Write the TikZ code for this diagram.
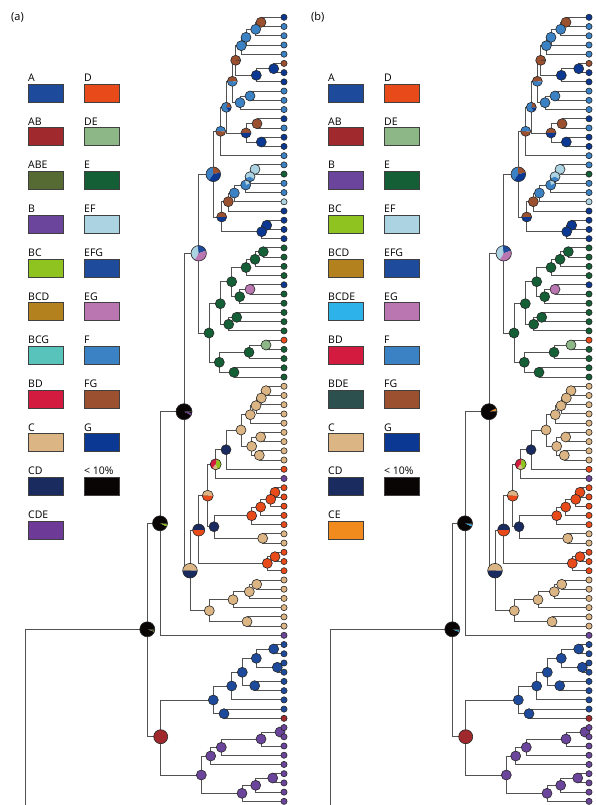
\documentclass[tikz,border=0pt]{standalone}
\usepackage{fontspec}
\setmainfont{Open Sans}
\definecolor{cA}{HTML}{1D4A9B}
\definecolor{cAB}{HTML}{A0292D}
\definecolor{cABE}{HTML}{566B33}
\definecolor{cB}{HTML}{6B449B}
\definecolor{cBC}{HTML}{8FC31F}
\definecolor{cBCD}{HTML}{B3821F}
\definecolor{cBCG}{HTML}{58C3BB}
\definecolor{cBD}{HTML}{D31A3F}
\definecolor{cC}{HTML}{DCB585}
\definecolor{cCD}{HTML}{1A2C5F}
\definecolor{cCDE}{HTML}{6E3A97}
\definecolor{cD}{HTML}{E84A1A}
\definecolor{cDE}{HTML}{8DB787}
\definecolor{cE}{HTML}{145F35}
\definecolor{cEF}{HTML}{ACD3E1}
\definecolor{cEFG}{HTML}{1E4B9C}
\definecolor{cEG}{HTML}{B976B0}
\definecolor{cF}{HTML}{3B82C5}
\definecolor{cFG}{HTML}{9B5130}
\definecolor{cG}{HTML}{0A3892}
\definecolor{cK}{HTML}{0A0505}
\definecolor{cBCDE}{HTML}{2DB3EA}
\definecolor{cBDE}{HTML}{2C504D}
\definecolor{cCE}{HTML}{F18B1D}
\tikzset{
  edge/.style={draw=black!68, line width=0.9pt},
  pieline/.style={draw=black!85, line width=0.6pt},
  legbox/.style={draw=black!75, line width=0.8pt, minimum width=35pt, minimum height=18pt, inner sep=0pt, anchor=north west},
  leglab/.style={anchor=base west, inner sep=0pt, font=\fontsize{10.5}{12}\selectfont},
  panel/.style={anchor=base west, inner sep=0pt, font=\fontsize{11}{13}\selectfont}
}
% define node coordinates of one tree: #1 prefix, #2 x shift
\newcommand\deftree[2]{%
  \foreach \i in {0,...,85} {\coordinate (#1t\i) at ({284+#2},{17.3+9.224*\i});}
  \foreach \n/\x/\y in {1/261/22.3, 2/255.7/29.3, 3/246/37.3, 4/241.3/45.7, 5/273.7/68.7, 6/256.3/75.3,
    7/235.7/60.3, 8/250/96, 9/240/102.7, 10/232.3/81.3, 11/257/123.7, 12/261.3/142, 13/246/133,
    14/226.3/107.3, 15/220.7/131.3, 16/255/169.3, 17/250/176.7, 18/245.7/185, 19/234.3/193,
    20/228.3/201.7, 21/266.7/225.3, 22/261.7/231.7, 23/221.7/217, 24/213.3/174.3, 25/263.3/251.7,
    26/255/259.3, 27/246/267.5, 28/250/289.3, 29/239.7/296.7, 30/231.7/281.7, 31/236.7/317.3,
    32/228.7/324.3, 33/220.3/303.7, 34/266/345, 35/249/352.3, 36/234/372.3, 37/219.3/362.3,
    38/209/333, 39/198.7/253.3, 40/266/390.7, 41/261.3/398, 42/256/405.7, 43/250.3/414.7,
    44/260.7/437, 45/259.3/455.3, 46/251.7/446.3, 47/241/430, 48/226/449.7, 49/215.7/464.3,
    50/275/492.3, 51/270.7/499.3, 52/260.7/507, 53/251.7/515.7, 54/262.7/538.3, 55/214/526.7,
    56/207.7/495.7, 57/275/556.7, 58/267.3/563.3, 59/198.7/530, 60/256.7/584.3, 61/249.3/591.7,
    62/233/599.7, 63/247/621.7, 64/209.3/610.7, 65/190/570.7, 66/184/411.7, 67/160/523.3,
    68/273.7/649, 69/277.3/667.3, 70/256.3/658.3, 71/254.7/685.7, 72/242.3/672.3, 73/231.7/686,
    74/224/713.7, 75/213.3/700, 76/280/732, 77/261/739, 78/221.3/747.3, 79/210.7/756,
    80/272.7/778, 81/255.7/785.3, 82/242/793.3, 83/201.3/775, 84/160.7/736.7, 85/147.3/629.3}
    {\coordinate (#1n\n) at ({\x+#2},\y);}
  \coordinate (#1rb) at ({25+#2},808);
}
\newcommand\drawedges[1]{%
  \foreach \p/\c in {n1/t0, n1/t1, n2/n1, n2/t2, n3/n2, n3/t3, n4/n3, n4/t4, n5/t5, n5/t6, n6/n5, n6/t7,
    n7/n4, n7/n6, n8/t8, n8/t9, n9/n8, n9/t10, n10/n7, n10/n9, n11/t11, n11/t12, n12/t13, n12/t14,
    n13/n11, n13/n12, n14/n10, n14/n13, n15/n14, n15/t15, n16/t16, n16/t17, n17/n16, n17/t18,
    n18/n17, n18/t19, n19/n18, n19/t20, n20/n19, n20/t21, n21/t22, n21/t23, n22/n21, n22/t24,
    n23/n20, n23/n22, n24/n15, n24/n23, n25/t25, n25/t26, n26/n25, n26/t27, n27/n26, n27/t28,
    n28/t29, n28/t30, n29/n28, n29/t31, n30/n27, n30/n29, n31/t32, n31/t33, n32/n31, n32/t34,
    n33/n30, n33/n32, n34/t35, n34/t36, n35/n34, n35/t37, n36/t38, n36/t39, n37/n35, n37/n36,
    n38/n33, n38/n37, n39/n24, n39/n38, n40/t40, n40/t41, n41/n40, n41/t42, n42/n41, n42/t43,
    n43/n42, n43/t44, n44/t45, n44/t46, n45/t47, n45/t48, n46/n44, n46/n45, n47/n43, n47/n46,
    n48/n47, n48/t49, n49/n48, n49/t50, n50/t51, n50/t52, n51/n50, n51/t53, n52/n51, n52/t54,
    n53/n52, n53/t55, n54/t56, n54/t57, n55/n53, n55/n54, n56/n49, n56/n55, n57/t58, n57/t59,
    n58/n57, n58/t60, n59/n56, n59/n58, n60/t61, n60/t62, n61/n60, n61/t63, n62/n61, n62/t64,
    n63/t65, n63/t66, n64/n62, n64/n63, n65/n59, n65/n64, n66/n39, n66/n65, n67/n66, n67/t67,
    n68/t68, n68/t69, n69/t70, n69/t71, n70/n68, n70/n69, n71/t72, n71/t73, n72/n70, n72/n71,
    n73/n72, n73/t74, n74/t75, n74/t76, n75/n73, n75/n74, n76/t77, n76/t78, n77/n76, n77/t79,
    n78/n77, n78/t80, n79/n78, n79/t81, n80/t82, n80/t83, n81/n80, n81/t84, n82/n81, n82/t85,
    n83/n79, n83/n82, n84/n75, n84/n83, n85/n67, n85/n84, rb/n85}
    {\draw[edge] (#1\p) |- (#1\c);}
}
% pie chart: #1 coordinate, #2 radius, #3 list start/end/colour
\newcommand\pie[3]{%
  \begin{scope}[shift={(#1)}, yscale=-1]
    \foreach \sa/\sb/\sc in {#3} {\fill[fill=\sc] (0,0) -- (\sa:#2) arc[start angle=\sa, end angle=\sb, radius=#2] -- cycle;}
    \draw[pieline] (0,0) circle[radius=#2];
  \end{scope}}
\newcommand\commonpies[1]{%
  \foreach \n/\c in {n1/cFG, n2/cF, n3/cF, n4/cF, n5/cG, n6/cG, n8/cF, n9/cF, n11/cFG, n12/cG,
    n16/cEF, n19/cF, n20/cFG, n21/cG, n22/cG, n25/cE, n26/cE, n27/cE, n28/cEG, n29/cE, n30/cE,
    n31/cE, n32/cE, n33/cE, n34/cDE, n35/cE, n36/cE, n37/cE, n38/cE, n40/cC, n41/cC, n42/cC,
    n43/cC, n44/cC, n45/cC, n46/cC, n47/cC, n48/cCD, n50/cD, n51/cD, n52/cD, n53/cD, n54/cC,
    n55/cCD, n57/cD, n58/cD, n60/cC, n61/cC, n62/cC, n63/cC, n64/cC, n68/cA, n69/cA, n70/cA,
    n71/cA, n72/cA, n73/cA, n74/cA, n75/cA, n76/cB, n77/cB, n78/cB, n79/cB, n80/cB, n81/cB,
    n82/cB, n83/cB}
    {\fill[fill=\c, pieline] (#1\n) circle[radius=5];}
  \fill[fill=cAB, pieline] (#1n84) circle[radius=7];
  \pie{#1n7}{5}{10/355/cFG, 355/370/cK}
  \pie{#1n10}{5}{0/180/cFG, 180/360/cF}
  \pie{#1n13}{5}{0/180/cFG, 180/360/cG}
  \pie{#1n14}{5}{0/80/cFG, 80/300/cF, 300/360/cG}
  \pie{#1n15}{5}{0/180/cF, 180/360/cFG}
  \pie{#1n17}{5}{-30/200/cEF, 200/330/cF}
  \pie{#1n18}{5}{20/100/cEF, 100/380/cF}
  \pie{#1n23}{5}{0/180/cFG, 180/360/cG}
  \pie{#1n24}{7.3}{15/95/cFG, 95/235/cF, 235/375/cG}
  \pie{#1n39}{7.7}{20/100/cEFG, 100/240/cEF, 240/380/cEG}
  \pie{#1n49}{5.5}{-70/80/cBC, 80/230/cBD, 230/290/cC}
  \pie{#1n56}{5.5}{0/180/cC, 180/360/cD}
  \pie{#1n59}{6}{0/180/cCD, 180/360/cD}
  \pie{#1n65}{7.3}{0/180/cC, 180/360/cCD}
}
\newcommand\drawtips[1]{%
  \foreach \i/\c in {0/cG, 1/cF, 2/cF, 3/cF, 4/cF, 5/cFG, 6/cG, 7/cG, 8/cF, 9/cF, 10/cF, 11/cG,
    12/cF, 13/cG, 14/cG, 15/cF, 16/cF, 17/cE, 18/cF, 19/cF, 20/cEF, 21/cG, 22/cG, 23/cG, 24/cG,
    25/cE, 26/cE, 27/cE, 28/cE, 29/cG, 30/cE, 31/cE, 32/cE, 33/cE, 34/cE, 35/cD, 36/cE, 37/cE,
    38/cE, 39/cE, 40/cC, 41/cC, 42/cC, 43/cC, 44/cC, 45/cC, 46/cC, 47/cC, 48/cC, 49/cD, 50/cB,
    51/cD, 52/cD, 53/cD, 54/cD, 55/cD, 56/cC, 57/cC, 58/cD, 59/cD, 60/cD, 61/cC, 62/cC, 63/cC,
    64/cC, 65/cC, 66/cC, 67/cB, 68/cA, 69/cA, 70/cA, 71/cA, 72/cA, 73/cA, 74/cA, 75/cA, 76/cAB,
    77/cB, 78/cB, 79/cB, 80/cB, 81/cB, 82/cB, 83/cB, 84/cB, 85/cB}
    {\fill[fill=\c, pieline] (#1t\i) circle[radius=3.1];}
}
\begin{document}
\begin{tikzpicture}[x=1pt,y=-1pt]
\useasboundingbox (0,0) rectangle (595,805);
% panel labels
\node[panel] (pa) at (11,20.5) {(a)};
\node[panel] (pb) at (311,20.5) {(b)};
% legends
\foreach \r/\lab/\col in {0/A/cA, 1/AB/cAB, 2/ABE/cABE, 3/B/cB, 4/BC/cBC, 5/BCD/cBCD, 6/BCG/cBCG,
  7/BD/cBD, 8/C/cC, 9/CD/cCD, 10/CDE/cCDE} {
  \node[leglab] (lal\r) at (28,{81.6+43.7*\r}) {\lab};
  \node[legbox, fill=\col] (la\r) at (28,{83.7+43.7*\r}) {};
}
\foreach \r/\lab/\col in {0/D/cD, 1/DE/cDE, 2/E/cE, 3/EF/cEF, 4/EFG/cEFG, 5/EG/cEG, 6/F/cF,
  7/FG/cFG, 8/G/cG, 9/{< 10\%}/cK} {
  \node[leglab] (lbl\r) at (84,{81.6+43.7*\r}) {\lab};
  \node[legbox, fill=\col] (lb\r) at (84,{83.7+43.7*\r}) {};
}
\foreach \r/\lab/\col in {0/A/cA, 1/AB/cAB, 2/B/cB, 3/BC/cBC, 4/BCD/cBCD, 5/BCDE/cBCDE, 6/BD/cBD,
  7/BDE/cBDE, 8/C/cC, 9/CD/cCD, 10/CE/cCE} {
  \node[leglab] (lcl\r) at (328,{81.6+43.7*\r}) {\lab};
  \node[legbox, fill=\col] (lc\r) at (328,{83.7+43.7*\r}) {};
}
\foreach \r/\lab/\col in {0/D/cD, 1/DE/cDE, 2/E/cE, 3/EF/cEF, 4/EFG/cEFG, 5/EG/cEG, 6/F/cF,
  7/FG/cFG, 8/G/cG, 9/{< 10\%}/cK} {
  \node[leglab] (ldl\r) at (384,{81.6+43.7*\r}) {\lab};
  \node[legbox, fill=\col] (ld\r) at (384,{83.7+43.7*\r}) {};
}
% trees
\deftree{a}{0}
\deftree{b}{305}
\drawedges{a}
\drawedges{b}
\commonpies{a}
\commonpies{b}
\pie{an66}{8}{0/335/cK, 335/350/cCDE, 350/360/cK}
\pie{an67}{7.5}{0/335/cK, 335/352/cBC, 352/360/cK}
\pie{an85}{7.5}{0/340/cK, 340/352/cABE, 352/360/cK}
\pie{bn66}{8}{0/10/cK, 10/25/cCE, 25/360/cK}
\pie{bn67}{7.5}{0/335/cK, 335/350/cBCDE, 350/360/cK}
\pie{bn85}{7.5}{0/340/cK, 340/350/cBCDE, 350/360/cK}
\drawtips{a}
\drawtips{b}
\end{tikzpicture}
\end{document}
